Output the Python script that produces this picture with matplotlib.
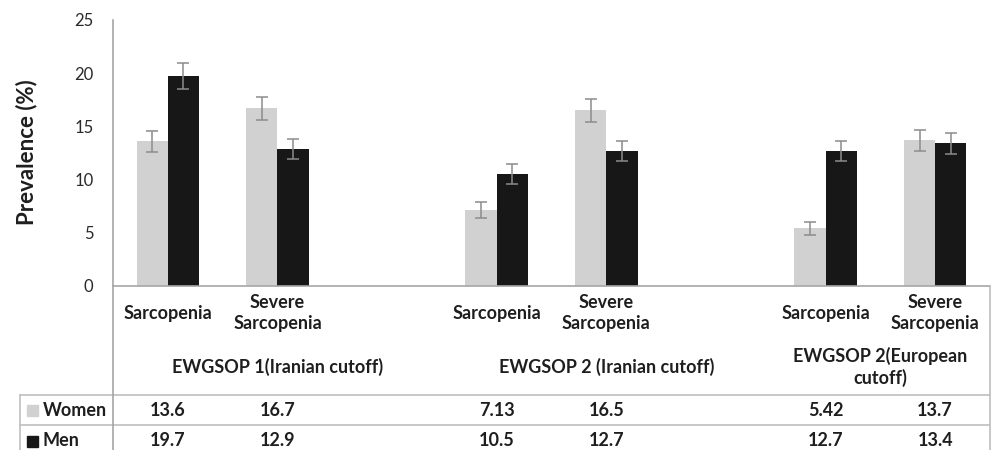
import matplotlib
matplotlib.use("Agg")
import matplotlib.pyplot as plt
from matplotlib.lines import Line2D
from matplotlib.patches import Rectangle
import matplotlib.transforms as mtransforms

# ---- data ----
groups = ["EWGSOP 1(Iranian cutoff)", "EWGSOP 2 (Iranian cutoff)", "EWGSOP 2(European\ncutoff)"]
subcats = ["Sarcopenia", "Severe\nSarcopenia"]
group_slots = [3, 3, 2]          # category slots per group (incl. blank slot)
women = [13.6, 16.7, 7.13, 16.5, 5.42, 13.7]
men = [19.7, 12.9, 10.5, 12.7, 12.7, 13.4]
women_err = [1.0, 1.1, 0.73, 1.06, 0.63, 1.0]
men_err = [1.22, 0.93, 0.94, 0.91, 0.91, 1.0]
women_labels = ["13.6", "16.7", "7.13", "16.5", "5.42", "13.7"]
men_labels = ["19.7", "12.9", "10.5", "12.7", "12.7", "13.4"]
yticks = [0, 5, 10, 15, 20, 25]

C_W = "#D0D1D0"
C_M = "#171717"
C_ERR = "#8C8C8C"
C_AX = "#A6A6A6"
C_GRID = "#BFBFBF"
C_TXT = "#1E1E1E"
FONT = "Lato"
FS = 13

plt.rcParams['font.family'] = [FONT, 'DejaVu Sans']

W, H = 992, 450
fig = plt.figure(figsize=(W / 100, H / 100), dpi=100)
L, R, T, B = 113, 990, 20, 286
ax = fig.add_axes([L / W, 1 - B / H, (R - L) / W, (B - T) / H])

# positions
pos = []
start = 0
group_centers = []
for g, n in zip(groups, group_slots):
    for k in range(len(subcats)):
        pos.append(start + k)
    group_centers.append(start + (n - 1) / 2)
    start += n
nslots = start

bw = 0.285
xw = [p - bw / 2 for p in pos]
xm = [p + bw / 2 for p in pos]
ax.bar(xw, women, width=bw, color=C_W, zorder=2)
ax.bar(xm, men, width=bw, color=C_M, zorder=2)
ax.errorbar(xw, women, yerr=women_err, fmt='none', ecolor=C_ERR, elinewidth=1.1,
            capsize=4, capthick=1.1, zorder=3)
ax.errorbar(xm, men, yerr=men_err, fmt='none', ecolor=C_ERR, elinewidth=1.1,
            capsize=4, capthick=1.1, zorder=3)

ax.set_xlim(-0.5, nslots - 0.5)
ax.set_ylim(0, 25)
ax.set_yticks(yticks)
ax.set_yticklabels([str(t) for t in yticks], fontsize=12, color="#2a2a2a")
ax.tick_params(axis='y', length=0, pad=14)
ax.set_xticks([])
for s in ['top', 'right']:
    ax.spines[s].set_visible(False)
for s in ['left', 'bottom']:
    ax.spines[s].set_color(C_AX)
    ax.spines[s].set_linewidth(1.2)

fig.text(27 / W, 1 - 152 / H, "Prevalence (%)", rotation=90, ha='center', va='center',
         fontsize=16, fontweight='bold', color=C_TXT)

tr = mtransforms.blended_transform_factory(ax.transData, fig.transFigure)

def fy(px):
    return 1 - px / H

# category labels
for i, p in enumerate(pos):
    lab = subcats[i % len(subcats)]
    ax.text(p, fy(313), lab, transform=tr, ha='center', va='center', fontsize=FS,
            fontweight='bold', color=C_TXT, linespacing=1.35)
# group labels
for gc, g in zip(group_centers, groups):
    ax.text(gc, fy(367), g, transform=tr, ha='center', va='center', fontsize=FS,
            fontweight='bold', color=C_TXT, linespacing=1.25)

# table values
for p, wl, ml in zip(pos, women_labels, men_labels):
    ax.text(p, fy(410), wl, transform=tr, ha='center', va='center', fontsize=FS,
            fontweight='bold', color=C_TXT)
    ax.text(p, fy(441), ml, transform=tr, ha='center', va='center', fontsize=FS,
            fontweight='bold', color=C_TXT)

# legend cells
fig.text(43 / W, fy(410), "Women", ha='left', va='center', fontsize=FS, fontweight='bold', color=C_TXT)
fig.text(43 / W, fy(441), "Men", ha='left', va='center', fontsize=FS, fontweight='bold', color=C_TXT)
fig.add_artist(Rectangle((27 / W, fy(416)), 11 / W, 11 / H, transform=fig.transFigure, color=C_W))
fig.add_artist(Rectangle((27 / W, fy(447)), 11 / W, 11 / H, transform=fig.transFigure, color=C_M))

# table lines
def hline(y, x0, x1):
    fig.add_artist(Line2D([x0 / W, x1 / W], [fy(y), fy(y)], transform=fig.transFigure,
                          color=C_GRID, lw=1.2))

def vline(x, y0, y1, c=C_GRID):
    fig.add_artist(Line2D([x / W, x / W], [fy(y0), fy(y1)], transform=fig.transFigure,
                          color=c, lw=1.2))

hline(395, 20, 990)
hline(425, 20, 990)
vline(113, 286, 450, C_AX)
vline(990, 286, 450)
vline(20, 395, 450)

fig.savefig("out.png", dpi=100)
